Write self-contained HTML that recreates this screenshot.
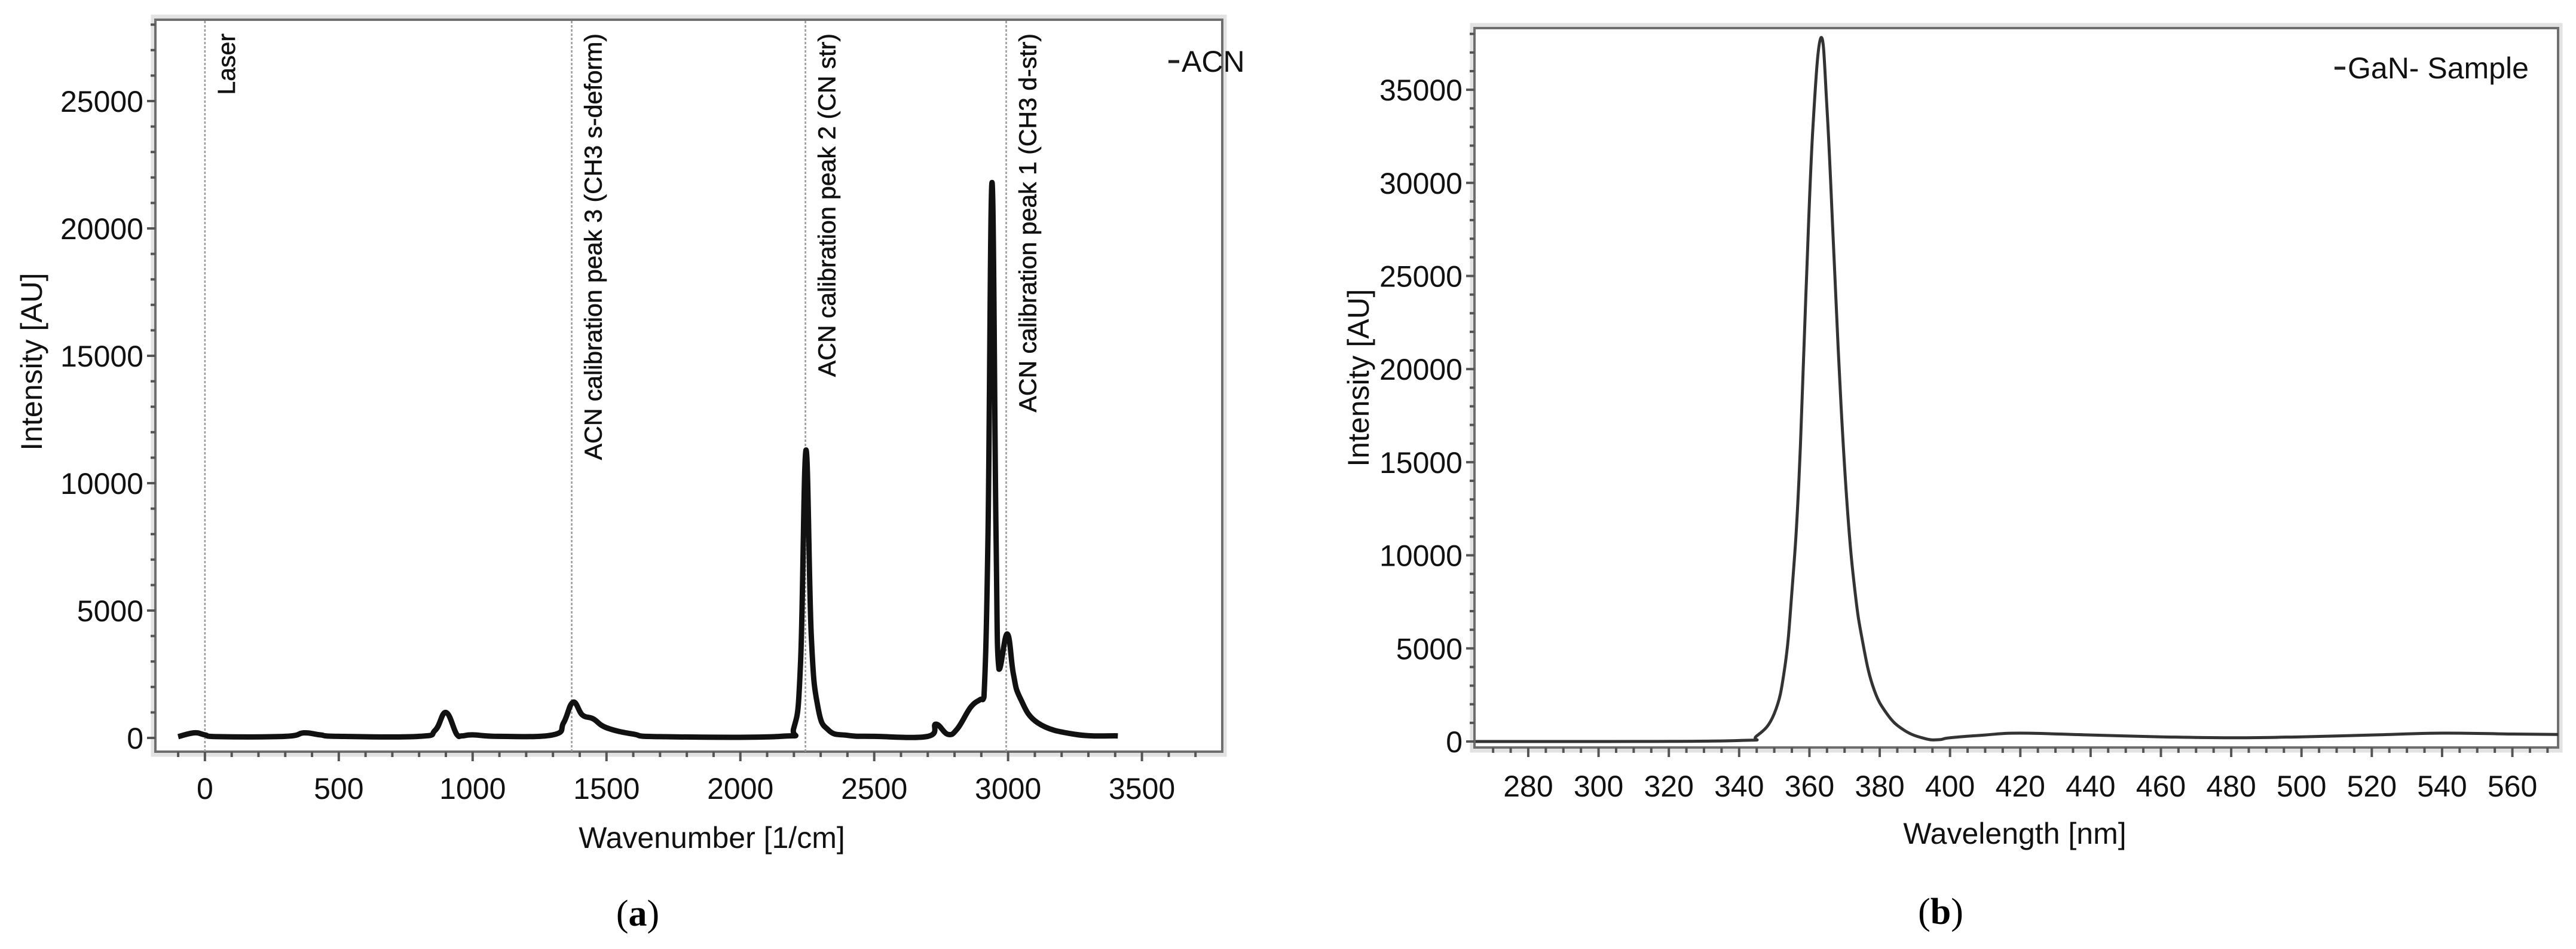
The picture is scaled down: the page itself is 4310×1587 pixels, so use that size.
<!DOCTYPE html>
<html><head><meta charset="utf-8"><style>
html,body{margin:0;padding:0;background:#fff;}
svg{display:block;font-family:"Liberation Sans",sans-serif;}
</style></head><body>
<svg id="fig" width="4310" height="1587" viewBox="0 0 4310 1587" xmlns="http://www.w3.org/2000/svg">
<g id="pa"></g>
<g id="pb"></g>
<text x="1067" y="1548" font-family="Liberation Serif,serif" font-size="62" text-anchor="middle">(<tspan font-weight="bold">a</tspan>)</text>
<text x="3247" y="1545" font-family="Liberation Serif,serif" font-size="62" text-anchor="middle">(<tspan font-weight="bold">b</tspan>)</text>
</svg>
<script>
// Panel A data
const aWavenumber = [-100,-40,0,50,300,370,430,500,800,860,900,940,960,1000,1100,1300,1340,1375,1410,1450,1500,1600,1700,2150,2200,2225,2245,2265,2290,2330,2400,2500,2700,2730,2775,2810,2860,2895,2910,2925,2940,2955,2966,2997,3020,3045,3111,3250,3410];
const aIntensity = [50,200,120,50,60,200,120,60,60,300,1000,150,80,120,60,120,600,1400,900,750,400,150,50,60,400,3000,11300,4000,1200,300,100,60,60,540,140,350,1200,1500,1600,8000,21800,8000,2700,4080,2500,1570,590,140,80];
const aXTicks = [0,500,1000,1500,2000,2500,3000,3500];
const aYTicks = [0,5000,10000,15000,20000,25000];
const aMarkers = [0,1370,2243,2993];
const aMarkerLabels = ["Laser","ACN calibration peak 3 (CH3 s-deform)","ACN calibration peak 2 (CN str)","ACN calibration peak 1 (CH3 d-str)"];
// Panel B data
const bWavelength = [265,300,340,345,350,353,355,357,359,361,363.3,365,367,369,371,373,375,378,382,387,393,397,400,410,420,440,460,480,500,520,540,560,573];
const bIntensity = [0,0,50,300,1500,4000,8000,14000,24000,33000,37800,34000,26000,18000,12000,8000,5500,3000,1500,600,150,100,200,350,450,350,250,200,250,350,450,400,380];
const bXTicks = [280,300,320,340,360,380,400,420,440,460,480,500,520,540,560];
const bYTicks = [0,5000,10000,15000,20000,25000,30000,35000];

const NS="http://www.w3.org/2000/svg";
function mk(parent,tag,attrs,txt){const e=document.createElementNS(NS,tag);for(const k in attrs)e.setAttribute(k,attrs[k]);if(txt!==undefined)e.textContent=txt;parent.appendChild(e);return e;}

function smoothPath(pts){
  let d='M'+pts[0][0].toFixed(1)+' '+pts[0][1].toFixed(1);
  for(let i=0;i<pts.length-1;i++){
    const p0=pts[i-1]||pts[i],p1=pts[i],p2=pts[i+1],p3=pts[i+2]||p2;
    const t=0.2;
    let c1y=p1[1]+(p2[1]-p0[1])*t, c2y=p2[1]-(p3[1]-p1[1])*t;
    const lo=Math.min(p1[1],p2[1]),hi=Math.max(p1[1],p2[1]);
    c1y=Math.max(lo-4,Math.min(hi+4,c1y)); c2y=Math.max(lo-4,Math.min(hi+4,c2y));
    const c1x=p1[0]+(p2[0]-p0[0])*t, c2x=p2[0]-(p3[0]-p1[0])*t;
    d+=` C${c1x.toFixed(1)} ${c1y.toFixed(1)} ${c2x.toFixed(1)} ${c2y.toFixed(1)} ${p2[0].toFixed(1)} ${p2[1].toFixed(1)}`;
  }
  return d;
}

function drawPanel(g,cfg){
  const sx=v=>cfg.x0+(v-cfg.xmin)*(cfg.x1-cfg.x0)/(cfg.xmax-cfg.xmin);
  const sy=v=>cfg.zeroY-v*cfg.pxPerUnit;
  const sh=mk(g,'rect',{x:cfg.x0-3,y:cfg.y0-4,width:cfg.x1-cfg.x0+6,height:cfg.y1-cfg.y0+8,fill:'none',stroke:'#e2e2e2','stroke-width':9});
  
  
  const fr=mk(g,'rect',{x:cfg.x0,y:cfg.y0,width:cfg.x1-cfg.x0,height:cfg.y1-cfg.y0,fill:'#fff',stroke:'#6e6e6e','stroke-width':4});
  
  
  for(let v=0;v<=cfg.ymaxTick;v+=1000){
    const y=sy(v); if(y<cfg.y0+4) break;
    const major=v%5000===0;
    const t=mk(g,'line',{x1:cfg.x0-(major?14:8),x2:cfg.x0,y1:y,y2:y,stroke:'#555','stroke-width':4});
    
    
  }
  cfg.yTicks.forEach(v=>{
    const t=mk(g,'text',{x:cfg.x0-20,y:sy(v)+18,'font-size':50,'text-anchor':'end',fill:'#111'},String(v));
    
    
  });
  for(let v=Math.ceil(cfg.xmin/cfg.minor)*cfg.minor; v<=cfg.xmax; v+=cfg.minor){
    const x=sx(v); if(x<cfg.x0+3||x>cfg.x1-3) continue;
    const major=Math.abs(v%cfg.major)<1e-6;
    const t=mk(g,'line',{x1:x,x2:x,y1:cfg.y1,y2:cfg.y1+(major?16:9),stroke:'#555','stroke-width':4});
    
    
  }
  cfg.xTicks.forEach(v=>{
    const t=mk(g,'text',{x:sx(v),y:cfg.xLabelY,'font-size':50,'text-anchor':'middle',fill:'#111'},String(v));
    
    
  });
  const xt=mk(g,'text',{x:cfg.xTitleX,y:cfg.xTitleY,'font-size':50,'text-anchor':'middle',fill:'#111'},cfg.xTitle);
  
  
  const yt=mk(g,'text',{x:0,y:0,'font-size':50,'text-anchor':'middle',fill:'#111',transform:`translate(${cfg.yTitleX},${cfg.yTitleY}) rotate(-90)`},'Intensity [AU]');
  
  
  (cfg.markers||[]).forEach((m,i)=>{
    const x=sx(m);
    const l=mk(g,'line',{x1:x,x2:x,y1:cfg.y0+2,y2:cfg.y1,stroke:'#999','stroke-width':2.5,'stroke-dasharray':'4 3'});
    
    
    const t=mk(g,'text',{x:0,y:0,'font-size':41,'text-anchor':'end',fill:'#111',stroke:'#111','stroke-width':0.6,transform:`translate(${x+50},${cfg.y0+23}) rotate(-90)`},cfg.markerLabels[i]);
    
    
  });
  const pts=cfg.xs.map((v,i)=>[sx(v),sy(cfg.ys[i])]);
  const p=mk(g,'path',{d:smoothPath(pts),fill:'none',stroke:cfg.lineColor,'stroke-width':cfg.lineW,'stroke-linejoin':'round'});
  
  
  const lg=mk(g,'g',{});
  
  
  mk(lg,'line',{x1:cfg.legX,x2:cfg.legX+18,y1:cfg.legY-17,y2:cfg.legY-17,stroke:'#222','stroke-width':5});
  mk(lg,'text',{x:cfg.legX+22,y:cfg.legY,'font-size':50,fill:'#111'},cfg.legend);
}

drawPanel(document.getElementById('pa'),{
  x0:260,x1:2045,y0:33,y1:1257,xmin:-185,xmax:3800,zeroY:1234,pxPerUnit:213/5000,
  ymaxTick:28000,yTicks:aYTicks,xTicks:aXTicks,minor:100,major:500,xLabelY:1336,
  xTitle:'Wavenumber [1/cm]',xTitleX:1191,xTitleY:1418,yTitleX:70,yTitleY:605,
  markers:aMarkers,markerLabels:aMarkerLabels,xs:aWavenumber,ys:aIntensity,lineColor:'#111',lineW:9,
  legend:'ACN',legX:1955,legY:120
});
drawPanel(document.getElementById('pb'),{
  x0:2467,x1:4280,y0:47,y1:1250,xmin:264.7,xmax:573,zeroY:1240,pxPerUnit:155.7/5000,
  ymaxTick:38000,yTicks:bYTicks,xTicks:bXTicks,minor:5,major:20,xLabelY:1332,
  xTitle:'Wavelength [nm]',xTitleX:3371,xTitleY:1411,yTitleX:2290,yTitleY:632,
  markers:[],markerLabels:[],xs:bWavelength,ys:bIntensity,lineColor:'#333',lineW:5,
  legend:'GaN- Sample',legX:3906,legY:131
});
</script>
</body></html>
